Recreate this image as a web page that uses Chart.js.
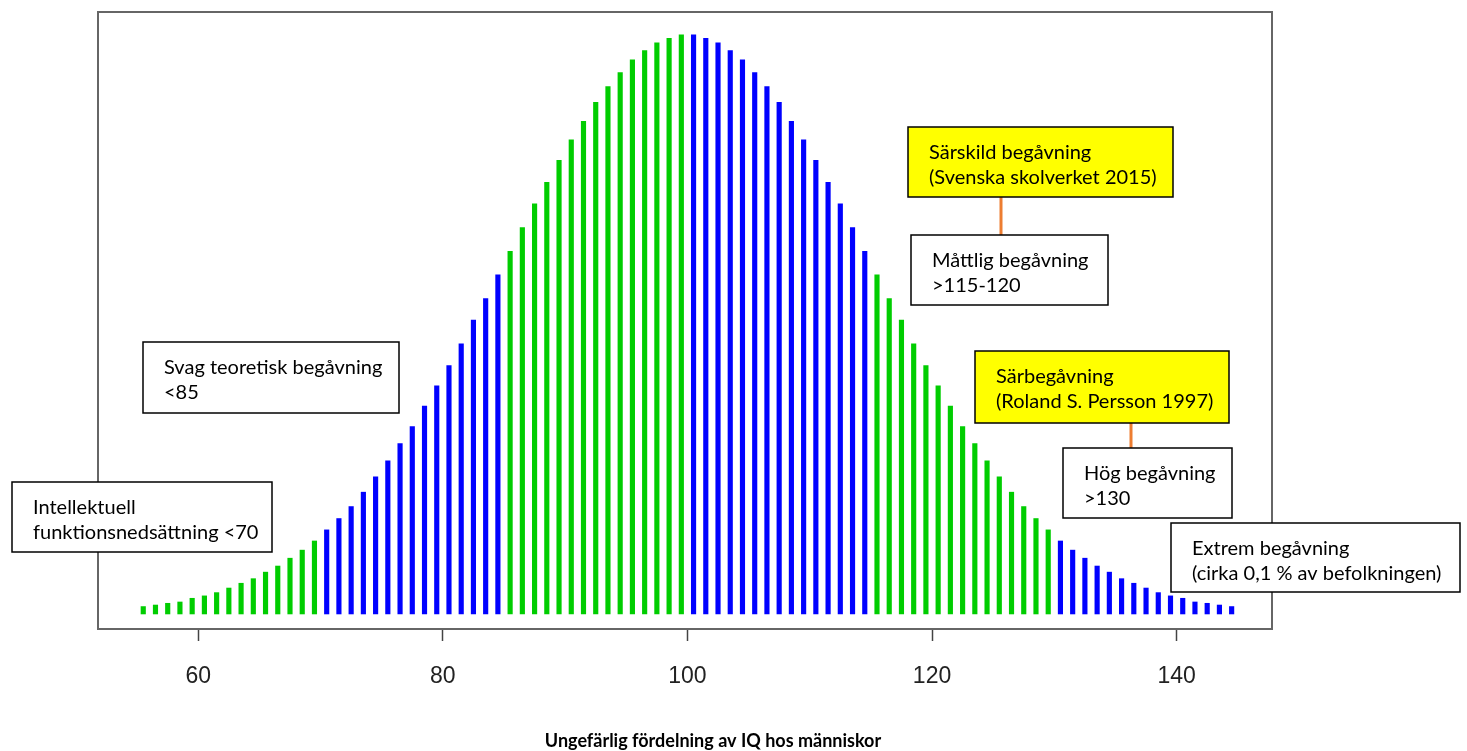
<!DOCTYPE html>
<html lang="sv">
<head>
    <meta charset="UTF-8">
    <title>Ungefärlig fördelning av IQ hos människor</title>
    <script src="https://cdn.jsdelivr.net/npm/chart.js@4.4.1/dist/chart.umd.min.js"></script>
    <style>
        body { margin: 0; background: #fff; }
        #wrap { width: 1467px; height: 751px; position: relative; }
    </style>
</head>
<body>
<div id="wrap"><canvas id="iqChart"></canvas></div>
<script>
    // IQ points (bar centres) and share of the population per point, in %
    const iq = [
        55.5, 56.5, 57.5, 58.5, 59.5, 60.5, 61.5, 62.5, 63.5, 64.5,
        65.5, 66.5, 67.5, 68.5, 69.5, 70.5, 71.5, 72.5, 73.5, 74.5,
        75.5, 76.5, 77.5, 78.5, 79.5, 80.5, 81.5, 82.5, 83.5, 84.5,
        85.5, 86.5, 87.5, 88.5, 89.5, 90.5, 91.5, 92.5, 93.5, 94.5,
        95.5, 96.5, 97.5, 98.5, 99.5, 100.5, 101.5, 102.5, 103.5, 104.5,
        105.5, 106.5, 107.5, 108.5, 109.5, 110.5, 111.5, 112.5, 113.5, 114.5,
        115.5, 116.5, 117.5, 118.5, 119.5, 120.5, 121.5, 122.5, 123.5, 124.5,
        125.5, 126.5, 127.5, 128.5, 129.5, 130.5, 131.5, 132.5, 133.5, 134.5,
        135.5, 136.5, 137.5, 138.5, 139.5, 140.5, 141.5, 142.5, 143.5, 144.5
    ];
    const share = [
        0.034, 0.041, 0.049, 0.055, 0.072, 0.083, 0.098, 0.119, 0.141, 0.162,
        0.192, 0.220, 0.256, 0.293, 0.335, 0.386, 0.438, 0.493, 0.559, 0.629,
        0.703, 0.782, 0.860, 0.954, 1.047, 1.140, 1.240, 1.349, 1.448, 1.557,
        1.664, 1.774, 1.882, 1.981, 2.082, 2.176, 2.261, 2.348, 2.421, 2.485,
        2.543, 2.586, 2.621, 2.642, 2.658, 2.658, 2.642, 2.621, 2.586, 2.543,
        2.485, 2.421, 2.348, 2.261, 2.176, 2.082, 1.981, 1.882, 1.774, 1.664,
        1.557, 1.448, 1.349, 1.240, 1.140, 1.047, 0.954, 0.860, 0.782, 0.703,
        0.629, 0.559, 0.493, 0.438, 0.386, 0.335, 0.293, 0.256, 0.220, 0.192,
        0.162, 0.141, 0.119, 0.098, 0.083, 0.072, 0.055, 0.049, 0.041, 0.034
    ];
    // band limits where the colour switches (green / blue / green ...)
    const bandLimits = [70, 85, 100, 115, 130];
    const xTicks = [60, 80, 100, 120, 140];
    const axisTitle = 'Ungefärlig fördelning av IQ hos människor';

    const GREEN = '#00cd00';
    const BLUE = '#0000ff';

    function bandColor(v) {
        const n = bandLimits.filter(b => v > b).length;
        return n % 2 === 0 ? GREEN : BLUE;
    }

    // text boxes drawn on top of the plot
    const notes = [
        { x: 12, y: 482, w: 260, h: 70, fill: '#fff', lines: ['Intellektuell', 'funktionsnedsättning <70'] },
        { x: 143, y: 342, w: 256, h: 71, fill: '#fff', lines: ['Svag teoretisk begåvning', '<85'] },
        { x: 908, y: 127, w: 265, h: 70, fill: '#ffff00', lines: ['Särskild begåvning', '(Svenska skolverket 2015)'] },
        { x: 911, y: 235, w: 197, h: 70, fill: '#fff', lines: ['Måttlig begåvning', '>115-120'] },
        { x: 975, y: 351, w: 254, h: 72, fill: '#ffff00', lines: ['Särbegåvning', '(Roland S. Persson 1997)'] },
        { x: 1063, y: 448, w: 169, h: 70, fill: '#fff', lines: ['Hög begåvning', '>130'] },
        { x: 1171, y: 523, w: 289, h: 69, fill: '#fff', lines: ['Extrem begåvning', '(cirka 0,1 % av befolkningen)'] }
    ];
    const connectors = [
        { x: 1001, y1: 197, y2: 235 },
        { x: 1131, y1: 423, y2: 448 }
    ];

    const framePlugin = {
        id: 'frame',
        afterDatasetsDraw(chart) {
            const a = chart.chartArea;
            const c = chart.ctx;
            c.save();
            c.strokeStyle = '#666';
            c.lineWidth = 2;
            c.strokeRect(a.left, a.top, a.right - a.left, a.bottom - a.top);
            c.restore();
        }
    };

    const notesPlugin = {
        id: 'notes',
        afterDraw(chart) {
            const c = chart.ctx;
            c.save();
            c.strokeStyle = '#ed7d31';
            c.lineWidth = 3;
            connectors.forEach(k => {
                c.beginPath();
                c.moveTo(k.x, k.y1);
                c.lineTo(k.x, k.y2);
                c.stroke();
            });
            c.font = '20px Lato';
            c.textBaseline = 'middle';
            c.textAlign = 'left';
            notes.forEach(n => {
                c.fillStyle = n.fill;
                c.fillRect(n.x, n.y, n.w, n.h);
                c.strokeStyle = '#000';
                c.lineWidth = 1.5;
                c.strokeRect(n.x, n.y, n.w, n.h);
                c.fillStyle = '#000';
                n.lines.forEach((t, i) => c.fillText(t, n.x + 21, n.y + 26 + i * 25));
            });
            c.font = 'bold 18px Lato';
            c.textAlign = 'center';
            c.fillText(axisTitle, 713, 741);
            c.restore();
        }
    };

    const ctx = document.getElementById('iqChart').getContext('2d');
    new Chart(ctx, {
        type: 'bar',
        data: {
            datasets: [{
                data: iq.map((v, i) => ({ x: v, y: share[i] })),
                backgroundColor: iq.map(bandColor),
                barThickness: 4.5,
                borderWidth: 0
            }]
        },
        options: {
            animation: false,
            responsive: true,
            maintainAspectRatio: false,
            layout: { padding: { left: 98, right: 195, top: 12, bottom: 0 } },
            plugins: {
                legend: { display: false },
                tooltip: { enabled: false }
            },
            scales: {
                x: {
                    type: 'linear',
                    offset: false,
                    min: 51.8,
                    max: 147.8,
                    afterBuildTicks: s => { s.ticks = xTicks.map(v => ({ value: v })); },
                    afterFit: s => { s.height = 122; },
                    grid: {
                        offset: false,
                        drawOnChartArea: false,
                        drawTicks: true,
                        tickLength: 12,
                        tickColor: '#444',
                        tickWidth: 1.5
                    },
                    border: { display: false },
                    ticks: {
                        color: '#222',
                        font: { family: 'Liberation Sans', size: 23 },
                        padding: 22,
                        maxRotation: 0
                    }
                },
                y: {
                    display: false,
                    min: -0.069,
                    max: 2.763
                }
            }
        },
        plugins: [framePlugin, notesPlugin]
    });
</script>
</body>
</html>
